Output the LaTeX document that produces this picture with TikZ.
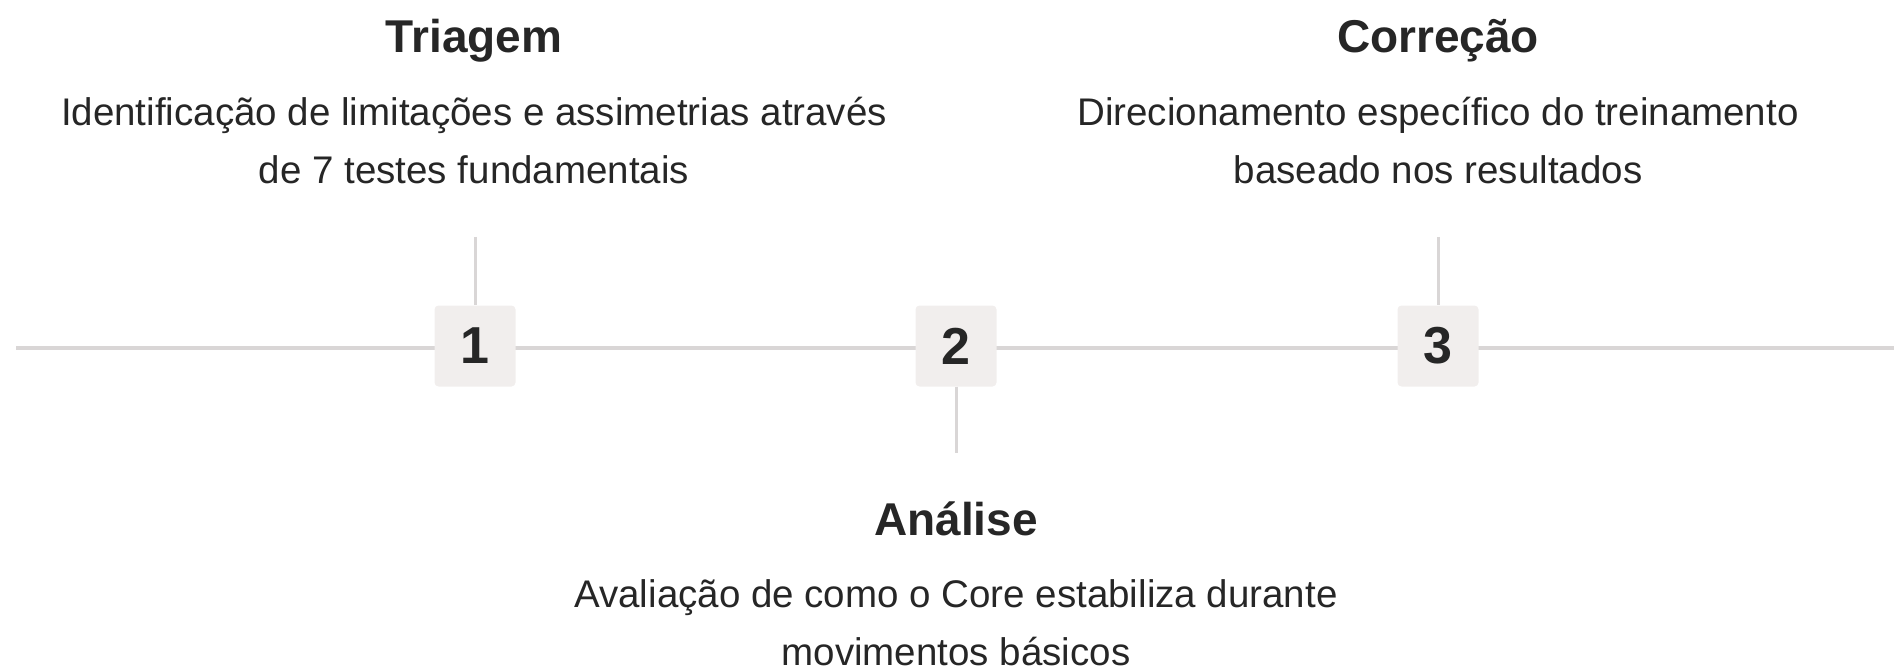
\documentclass[tikz,border=0pt]{standalone}
\usepackage{fontspec}
\setmainfont{Liberation Sans}
\definecolor{ink}{HTML}{262626}
\definecolor{rule}{HTML}{D9D6D6}
\definecolor{boxfill}{HTML}{F1EEED}
\begin{document}
\begin{tikzpicture}[x=1pt,y=-1pt,
  numbox/.style={fill=boxfill,rounded corners=4pt,minimum width=81pt,minimum height=81pt,inner sep=0pt,
    font=\fontsize{52}{52}\selectfont\bfseries,text=ink},
  ttl/.style={anchor=base,inner sep=0pt,font=\fontsize{46}{46}\selectfont\bfseries,text=ink},
  desc/.style={anchor=base,inner sep=0pt,align=center,font=\fontsize{38.5}{58}\selectfont,text=ink},
  conn/.style={draw=rule,line width=3.5pt}]
\useasboundingbox (0,0) rectangle (1894,668);
\coordinate (ls) at (16,348);
\coordinate (le) at (1894,348);
\coordinate (t1) at (475,237);
\coordinate (t2) at (956,453);
\coordinate (t3) at (1438,237);
\draw[conn] (ls) -- (le);
\node[numbox] (b1) at (475,346) {1};
\node[numbox] (b2) at (956,346) {2};
\node[numbox] (b3) at (1438,346) {3};
\draw[conn,line width=3pt] (t1) -- (b1.north);
\draw[conn,line width=3pt] (b2.south) -- (t2);
\draw[conn,line width=3pt] (t3) -- (b3.north);
\node[ttl] (h1) at (474,53) {Triagem};
\node[desc] (d1) at (474,184) {Identificação de limitações e assimetrias através\\de 7 testes fundamentais};
\node[ttl] (h3) at (1438,53) {Correção};
\node[desc] (d3) at (1438,184) {Direcionamento específico do treinamento\\baseado nos resultados};
\node[ttl] (h2) at (956,535) {Análise};
\node[desc] (d2) at (956,665) {Avaliação de como o Core estabiliza durante\\movimentos básicos};
\end{tikzpicture}
\end{document}
